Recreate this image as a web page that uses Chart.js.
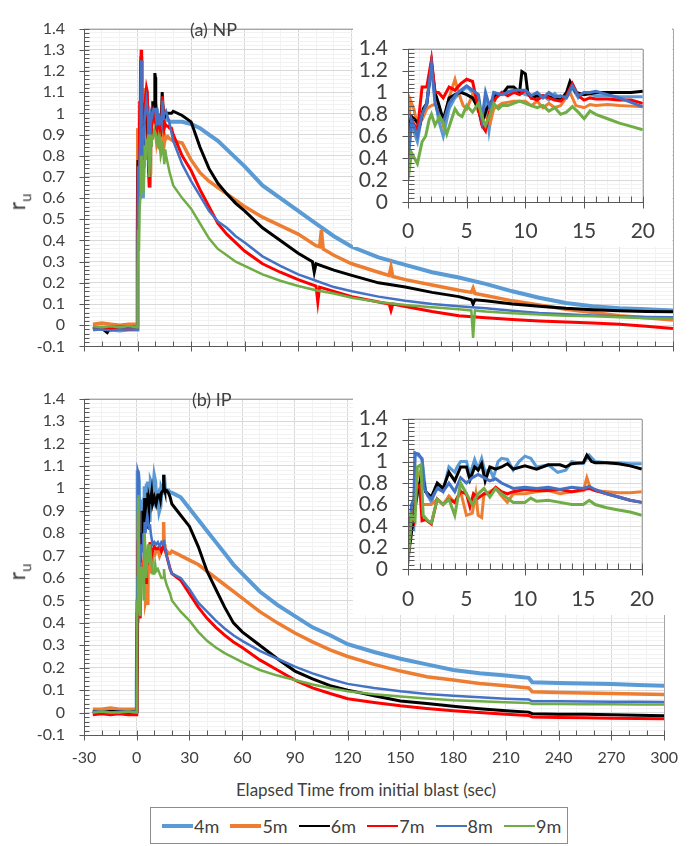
<!DOCTYPE html>
<html>
<head>
<meta charset="utf-8">
<script src="https://cdn.jsdelivr.net/npm/chart.js@4"></script>
<style>
  body { margin: 0; background: #fff; }
  #page { position: relative; width: 691px; height: 846px; font-family: Lato, "Open Sans", sans-serif; color: #404040; }
  .box { position: absolute; }
  .panel-title { position: absolute; font-size: 18px; line-height: 1; white-space: nowrap; }
  .ytitle { position: absolute; font-size: 23px; line-height: 1; white-space: nowrap; transform: translate(-50%, -50%) rotate(-90deg); }
  .ytitle sub { font-size: 15px; }
  #xtitle { position: absolute; left: 366px; top: 789px; transform: translate(-50%, -50%); font-size: 17px; white-space: nowrap; }
  #legend { position: absolute; left: 150px; top: 807px; width: 416px; height: 35px; border: 1px solid #8c8c8c; }
  .item { position: absolute; top: 0; height: 35px; display: flex; align-items: center; font-size: 18px; }
  .swatch { width: 31px; margin-right: 1px; }
</style>
</head>
<body>
<div id="page">
  <div class="box" style="left:0;top:0"><canvas id="topMain" width="691" height="375"></canvas></div>
  <div class="box" style="left:0;top:370px"><canvas id="botMain" width="691" height="400"></canvas></div>
  <div class="box" style="left:353px;top:16px"><canvas id="topInset" width="319" height="231"></canvas></div>
  <div class="box" style="left:353px;top:386px"><canvas id="botInset" width="319" height="229"></canvas></div>
  <div class="panel-title" style="left:190px;top:20px">(a) NP</div>
  <div class="panel-title" style="left:192px;top:390px">(b) IP</div>
  <div class="ytitle" style="left:19px;top:202px">r<sub>u</sub></div>
  <div class="ytitle" style="left:19px;top:572px">r<sub>u</sub></div>
  <div id="xtitle">Elapsed Time from initial blast (sec)</div>
  <div id="legend"></div>
</div>
<script>
// Series names and colours (gauge depth)
const NAMES = ['4m', '5m', '6m', '7m', '8m', '9m'];
const COLORS = ['#5B9BD5', '#ED7D31', '#000000', '#FF0000', '#4472C4', '#70AD47'];

// (a) NP : [time (sec), r_u]
const np4 = [[-25,-0.02],[-20,-0.015],[-15,-0.02],[-10,-0.025],[-5,-0.02],[-0.3,-0.02],
  [0,0.4],[0.3,0.7],[0.8,0.55],[1.2,0.8],[1.6,0.88],[2,1.25],[2.3,0.95],[2.6,0.75],[3,0.6],[3.5,0.85],[4,0.95],[4.5,1.0],[5,1.05],[5.5,1.0],[6,0.95],[6.3,0.75],[6.6,0.95],[6.9,0.65],[7.3,0.95],[8,1.0],[9,1.02],[10,0.98],[11,0.95],[11.5,0.97],[12,0.93],[12.5,0.99],[13,0.93],[13.5,0.97],[14,1.04],[14.5,0.95],[15,1.0],[16,0.97],[17,0.97],[18,0.96],[19,0.96],[20,0.96],
  [25,0.96],[30,0.95],[35,0.93],[40,0.9],[45,0.87],[50,0.83],[55,0.79],[60,0.75],[70,0.66],[80,0.6],[90,0.54],[100,0.48],[110,0.42],[120,0.37],[135,0.32],[150,0.285],[165,0.25],[180,0.225],[195,0.195],[210,0.16],[225,0.13],[240,0.105],[255,0.09],[270,0.08],[285,0.075],[300,0.07]];
const np5 = [[-25,0.005],[-20,0.01],[-15,0.005],[-10,0.0],[-5,0.005],[-0.3,0.005],
  [0,0.55],[0.2,0.93],[0.5,0.85],[0.8,0.7],[1.2,0.75],[1.6,0.85],[2,0.88],[2.5,0.9],[3,0.7],[3.5,0.95],[4,1.12],[4.3,1.0],[4.7,0.88],[5,0.85],[5.5,0.98],[6,0.82],[6.5,0.8],[7,0.72],[7.3,0.85],[8,0.9],[9,0.92],[10,0.92],[10.5,0.88],[11,0.92],[11.5,0.86],[12,0.9],[12.5,0.86],[13,0.88],[13.8,1.0],[14.3,0.88],[15,0.86],[15.5,0.89],[16,0.88],[17,0.89],[18,0.88],[19,0.875],[20,0.87],
  [25,0.86],[30,0.78],[35,0.72],[40,0.68],[45,0.65],[50,0.62],[55,0.59],[60,0.56],[70,0.51],[80,0.47],[90,0.43],[100,0.375],[102,0.37],[103,0.45],[104,0.36],[110,0.33],[120,0.29],[135,0.25],[141,0.235],[142,0.275],[143,0.23],[150,0.215],[165,0.19],[180,0.165],[187,0.155],[188,0.175],[189,0.15],[195,0.14],[210,0.115],[225,0.095],[240,0.075],[255,0.06],[270,0.045],[285,0.035],[300,0.025]];
const np6 = [[-25,-0.01],[-20,-0.015],[-17,-0.035],[-15,-0.01],[-10,-0.01],[-5,-0.01],[-0.3,-0.01],
  [0,0.6],[0.3,0.78],[0.6,0.75],[1,0.7],[1.3,0.85],[1.6,0.9],[2,1.27],[2.3,1.0],[2.6,0.9],[3,0.75],[3.5,0.95],[4,0.98],[4.5,1.0],[5,0.98],[5.5,0.95],[6,0.85],[6.3,0.72],[6.7,0.85],[7,0.9],[7.5,0.98],[8,0.98],[8.5,1.05],[9,1.05],[9.5,1.0],[9.7,1.19],[10,1.17],[10.2,1.0],[10.5,0.95],[11,0.97],[12,0.96],[13,0.93],[13.5,1.0],[13.8,1.1],[14.3,1.0],[15,0.98],[16,1.0],[17,1.0],[18,1.0],[19,1.0],[20,1.01],
  [25,0.99],[30,0.96],[35,0.84],[40,0.74],[45,0.67],[50,0.62],[55,0.575],[60,0.54],[70,0.46],[80,0.4],[90,0.34],[98,0.3],[99,0.25],[100,0.29],[110,0.26],[120,0.235],[135,0.2],[150,0.18],[165,0.155],[180,0.135],[187,0.12],[188,0.1],[189,0.12],[195,0.115],[210,0.1],[225,0.09],[240,0.08],[255,0.073],[270,0.068],[285,0.065],[300,0.063]];
const np7 = [[-25,-0.015],[-20,-0.01],[-15,-0.015],[-10,-0.015],[-5,-0.02],[-0.3,-0.015],
  [0,0.5],[0.3,0.75],[0.8,0.65],[1.2,1.05],[1.6,1.05],[2,1.3],[2.3,1.0],[2.6,1.0],[3,0.95],[3.5,1.05],[4,1.02],[4.5,1.08],[5,1.12],[5.5,1.1],[6,0.85],[6.3,0.7],[6.6,0.65],[7,0.85],[7.5,0.95],[8,1.0],[8.5,0.97],[9,1.0],[9.5,0.98],[10,1.02],[10.5,0.95],[11,0.93],[11.5,0.97],[12,0.95],[12.5,0.93],[13,0.92],[13.5,0.97],[14,1.08],[14.5,0.97],[15,0.93],[15.5,0.95],[16,0.94],[17,0.94],[18,0.93],[19,0.93],[20,0.9],
  [25,0.8],[30,0.73],[35,0.64],[40,0.56],[45,0.48],[50,0.43],[55,0.39],[60,0.35],[70,0.29],[80,0.25],[90,0.215],[100,0.185],[101,0.11],[102,0.18],[110,0.16],[120,0.135],[135,0.11],[141,0.1],[142,0.07],[143,0.1],[150,0.088],[165,0.065],[180,0.045],[195,0.035],[210,0.027],[225,0.02],[240,0.015],[255,0.01],[270,0.005],[285,-0.005],[300,-0.015]];
const np8 = [[-25,-0.02],[-20,-0.02],[-15,-0.025],[-10,-0.02],[-5,-0.02],[-0.3,-0.02],
  [0,0.35],[0.3,0.75],[0.8,0.6],[1.2,0.8],[1.6,0.9],[2,1.25],[2.3,0.9],[2.6,0.8],[3,0.72],[3.5,0.9],[4,0.97],[4.5,1.02],[5,1.06],[5.5,1.02],[6,0.98],[6.3,0.75],[6.6,1.0],[7,0.85],[7.3,1.0],[8,0.98],[9,1.02],[10,1.02],[10.5,0.97],[11,1.0],[11.5,0.95],[12,1.0],[12.5,0.96],[13,0.97],[13.5,0.95],[14,1.06],[14.5,0.97],[15,1.0],[15.5,1.0],[16,1.01],[17,0.98],[18,0.95],[19,0.91],[20,0.87],
  [25,0.76],[30,0.68],[35,0.61],[40,0.54],[45,0.49],[50,0.46],[55,0.42],[60,0.39],[70,0.325],[80,0.28],[90,0.24],[100,0.21],[110,0.18],[120,0.16],[135,0.135],[150,0.115],[165,0.1],[180,0.09],[195,0.08],[210,0.068],[225,0.058],[240,0.052],[255,0.046],[270,0.042],[285,0.039],[300,0.037]];
const np9 = [[-25,-0.005],[-20,-0.01],[-15,-0.005],[-10,-0.01],[-5,-0.005],[-0.3,-0.01],
  [0,0.2],[0.3,0.45],[0.8,0.35],[1.2,0.55],[1.5,0.6],[1.8,0.75],[2,0.8],[2.3,0.7],[2.7,0.78],[3,0.72],[3.3,0.62],[3.7,0.75],[4,0.85],[4.3,0.8],[4.6,0.78],[5,0.88],[5.5,0.82],[6,0.9],[6.3,0.78],[6.6,0.7],[7,0.8],[7.3,0.9],[7.7,0.85],[8,0.88],[8.5,0.88],[9,0.9],[9.5,0.92],[10,0.9],[10.5,0.88],[11,0.86],[11.5,0.88],[12,0.83],[12.5,0.86],[13,0.8],[13.5,0.82],[14,0.87],[14.5,0.82],[15,0.76],[15.5,0.83],[16,0.8],[17,0.76],[18,0.72],[19,0.69],[20,0.66],
  [25,0.6],[30,0.55],[35,0.48],[40,0.41],[45,0.36],[50,0.33],[55,0.3],[60,0.28],[70,0.24],[80,0.21],[90,0.185],[100,0.165],[110,0.15],[120,0.13],[135,0.11],[150,0.095],[165,0.085],[180,0.075],[187,0.07],[188,-0.06],[189,0.07],[195,0.065],[210,0.057],[225,0.05],[240,0.045],[255,0.042],[270,0.038],[285,0.033],[300,0.03]];

// (b) IP : [time (sec), r_u]
const ip4 = [[-25,0.005],[-20,0.0],[-15,0.005],[-10,0.01],[-5,0.005],[-0.3,0.005],
  [0,0.1],[0.3,0.45],[0.5,0.4],[0.6,1.08],[1.2,1.03],[1.5,0.73],[2,0.62],[2.5,0.78],[3,0.72],[3.5,0.95],[4,0.9],[4.2,0.95],[4.5,1.0],[5,1.0],[5.3,0.88],[5.7,1.02],[6,0.93],[6.3,1.03],[6.6,0.9],[7,0.93],[7.3,0.85],[7.7,1.0],[8,1.03],[8.5,1.02],[9,0.92],[9.5,1.0],[10,1.05],[10.5,1.03],[11,0.95],[12,0.97],[12.8,0.9],[13.5,0.92],[14,1.0],[15,0.98],[15.5,1.06],[16,1.0],[17,0.99],[18,0.99],[19,0.98],[20,0.98],
  [25,0.96],[30,0.91],[35,0.86],[40,0.81],[45,0.76],[50,0.71],[55,0.66],[60,0.62],[70,0.54],[80,0.48],[90,0.43],[100,0.38],[110,0.345],[120,0.305],[135,0.27],[150,0.24],[165,0.215],[180,0.19],[195,0.175],[210,0.165],[223,0.155],[225,0.135],[240,0.132],[255,0.13],[270,0.127],[285,0.123],[300,0.12]];
const ip5 = [[-25,0.015],[-20,0.015],[-15,0.02],[-10,0.015],[-5,0.015],[-0.3,0.015],
  [0,0.1],[0.4,0.5],[0.7,0.85],[1,0.9],[1.2,0.6],[2,0.6],[2.5,0.65],[3,0.6],[3.5,0.68],[4,0.62],[4.5,0.72],[5,0.5],[5.5,0.52],[5.8,0.7],[6,0.5],[6.3,0.48],[6.5,0.7],[7,0.72],[7.5,0.75],[8,0.68],[8.5,0.62],[9,0.7],[10,0.7],[11,0.72],[12,0.73],[13,0.7],[14,0.72],[15,0.73],[15.3,0.85],[15.6,0.75],[16,0.73],[17,0.72],[18,0.71],[19,0.71],[20,0.72],
  [25,0.7],[30,0.68],[35,0.66],[40,0.63],[45,0.6],[50,0.57],[55,0.54],[60,0.51],[70,0.45],[80,0.4],[90,0.355],[100,0.315],[110,0.28],[120,0.25],[135,0.215],[150,0.185],[165,0.16],[180,0.145],[195,0.13],[210,0.12],[223,0.11],[225,0.093],[240,0.09],[255,0.087],[270,0.085],[285,0.083],[300,0.081]];
const ip6 = [[-25,0.005],[-20,0.0],[-15,0.005],[-10,0.005],[-5,0.0],[-0.3,0.005],
  [0,0.1],[0.5,0.5],[0.8,0.7],[1.2,0.9],[1.5,0.72],[2,0.67],[2.5,0.8],[3,0.75],[3.5,0.9],[4,0.82],[4.5,0.95],[5,0.95],[5.3,0.83],[5.7,0.95],[6,0.92],[6.3,0.98],[6.6,0.82],[7,0.95],[7.5,0.93],[8,0.95],[8.5,0.98],[9,0.93],[10,0.96],[11,0.93],[12,0.97],[13,0.97],[13.5,0.95],[14,0.98],[15,0.99],[15.3,1.06],[15.7,1.0],[16,0.99],[17,0.99],[18,0.98],[19,0.96],[20,0.93],
  [25,0.88],[30,0.83],[35,0.74],[40,0.63],[45,0.55],[50,0.47],[55,0.4],[60,0.36],[70,0.3],[80,0.24],[90,0.185],[100,0.15],[110,0.12],[120,0.1],[135,0.075],[150,0.052],[165,0.04],[180,0.028],[195,0.017],[210,0.008],[223,0.002],[225,-0.005],[240,-0.007],[255,-0.008],[270,-0.01],[285,-0.012],[300,-0.014]];
const ip7 = [[-25,-0.01],[-20,-0.005],[-15,-0.01],[-10,-0.005],[-5,-0.01],[-0.3,-0.01],
  [0,0.1],[0.3,0.5],[0.5,0.45],[0.6,0.75],[1,0.78],[1.2,0.45],[1.5,0.46],[2,0.42],[2.5,0.65],[3,0.6],[3.5,0.65],[4,0.62],[4.5,0.72],[5,0.7],[5.3,0.58],[5.6,0.7],[6,0.66],[6.5,0.7],[7,0.7],[7.5,0.76],[8,0.72],[8.5,0.7],[9,0.72],[10,0.74],[11,0.73],[12,0.73],[13,0.74],[14,0.72],[15,0.74],[15.5,0.75],[16,0.73],[17,0.7],[18,0.67],[19,0.64],[20,0.62],
  [25,0.59],[30,0.53],[35,0.47],[40,0.42],[45,0.38],[50,0.345],[55,0.315],[60,0.29],[70,0.235],[80,0.19],[90,0.145],[100,0.11],[110,0.085],[120,0.062],[135,0.045],[150,0.03],[165,0.018],[180,0.008],[195,0.0],[210,-0.008],[223,-0.013],[225,-0.02],[240,-0.022],[255,-0.023],[270,-0.025],[285,-0.026],[300,-0.027]];
const ip8 = [[-25,0.005],[-20,0.005],[-15,0.0],[-10,0.005],[-5,0.005],[-0.3,0.005],
  [0,0.1],[0.3,0.6],[0.5,0.65],[0.6,1.08],[0.9,1.07],[1.2,1.02],[1.4,0.75],[1.7,0.68],[2,0.65],[2.5,0.75],[3,0.72],[3.5,0.8],[4,0.72],[4.5,0.85],[5,0.8],[5.5,0.85],[6,0.88],[6.5,0.85],[7,0.82],[7.5,0.84],[8,0.8],[9,0.75],[10,0.76],[11,0.75],[12,0.76],[13,0.74],[14,0.76],[15,0.75],[15.5,0.77],[16,0.74],[17,0.7],[18,0.67],[19,0.64],[20,0.62],
  [25,0.6],[30,0.55],[35,0.49],[40,0.45],[45,0.41],[50,0.375],[55,0.345],[60,0.32],[70,0.275],[80,0.24],[90,0.205],[100,0.175],[110,0.15],[120,0.128],[135,0.11],[150,0.095],[165,0.083],[180,0.075],[195,0.068],[210,0.062],[223,0.058],[225,0.05],[240,0.05],[255,0.049],[270,0.048],[285,0.048],[300,0.047]];
const ip9 = [[-25,0.0],[-20,0.005],[-15,0.0],[-10,0.0],[-5,0.005],[-0.3,0.0],
  [0,0.05],[0.3,0.5],[0.6,0.45],[0.8,0.95],[1.1,0.97],[1.3,0.5],[1.7,0.45],[2,0.43],[2.5,0.65],[3,0.6],[3.5,0.65],[4,0.5],[4.5,0.8],[5,0.7],[5.5,0.6],[6,0.7],[6.5,0.75],[7,0.67],[7.5,0.75],[8,0.7],[8.5,0.66],[9,0.62],[10,0.62],[10.5,0.66],[11,0.63],[12,0.64],[13,0.62],[14,0.6],[15,0.6],[15.5,0.64],[16,0.6],[17,0.57],[18,0.55],[19,0.53],[20,0.5],
  [25,0.45],[30,0.41],[35,0.36],[40,0.32],[45,0.29],[50,0.265],[55,0.245],[60,0.225],[70,0.19],[80,0.165],[90,0.145],[100,0.125],[110,0.11],[120,0.095],[135,0.082],[150,0.072],[165,0.063],[180,0.055],[195,0.05],[210,0.046],[223,0.043],[225,0.038],[240,0.038],[255,0.037],[270,0.037],[285,0.036],[300,0.036]];

const NP = [np4, np5, np6, np7, np8, np9];
const IP = [ip4, ip5, ip6, ip7, ip8, ip9];

const FONT = 'Lato, "Open Sans", sans-serif';
const TEXT = '#404040';
const MAIN_WIDTHS = [4, 3.5, 3, 3, 2.5, 2.5];
const INSET_WIDTHS = [3, 3, 3, 3, 3, 3];
const LEGEND_WIDTHS = [4, 4, 2, 2, 2, 2];

function isMultiple(v, step) {
  const q = v / step;
  return Math.abs(q - Math.round(q)) < 1e-6;
}

function fmt(v) {
  return String(Math.round(v * 100) / 100);
}

// white background, plot frame and Excel-like tick marks
const framePlugin = {
  id: 'frame',
  beforeDraw(chart) {
    const c = chart.ctx;
    c.save();
    c.fillStyle = '#fff';
    c.fillRect(0, 0, chart.width, chart.height);
    c.restore();
  },
  afterDraw(chart, args, opts) {
    const c = chart.ctx, a = chart.chartArea;
    const xs = chart.scales.x, ys = chart.scales.y;
    const al = (p) => Math.round(p) + 0.5;
    const L = al(a.left), R = al(a.right), T = al(a.top), B = al(a.bottom);
    c.save();
    c.lineWidth = 1;
    c.strokeStyle = '#a6a6a6';
    c.beginPath();
    c.moveTo(L, T); c.lineTo(R, T); c.lineTo(R, B);
    c.stroke();
    c.strokeStyle = '#595959';
    c.beginPath();
    c.moveTo(L, T); c.lineTo(L, B); c.lineTo(R, B);
    ys.ticks.forEach((t) => {
      const y = al(ys.getPixelForValue(t.value));
      const major = isMultiple(t.value, opts.yMajor);
      c.moveTo(major ? L - opts.len : L, y);
      c.lineTo(L + opts.len, y);
    });
    xs.ticks.forEach((t) => {
      const x = al(xs.getPixelForValue(t.value));
      const major = isMultiple(t.value, opts.xMajor);
      c.moveTo(x, major ? B + opts.len : B);
      c.lineTo(x, B - opts.len);
    });
    c.stroke();
    c.restore();
  }
};

function axis(cfg, horizontal, fontSize) {
  return {
    type: 'linear',
    min: cfg.min,
    max: cfg.max,
    border: { display: false },
    grid: {
      drawTicks: false,
      color: (ctx) => (ctx.tick && isMultiple(ctx.tick.value, cfg.major) ? '#D9D9D9' : '#F2F2F2')
    },
    ticks: {
      stepSize: cfg.step,
      autoSkip: false,
      maxRotation: 0,
      display: cfg.labels,
      padding: cfg.pad,
      color: TEXT,
      font: { family: FONT, size: fontSize },
      callback: (v) => (isMultiple(v, cfg.major) ? fmt(v) : '')
    },
    afterFit: (s) => {
      if (horizontal) s.height = cfg.fit;
      else s.width = cfg.fit;
    }
  };
}

function buildChart(id, series, widths, cfg) {
  const inRange = (p) => p[0] >= cfg.x.min && p[0] <= cfg.x.max;
  return new Chart(document.getElementById(id), {
    type: 'scatter',
    data: {
      datasets: series.map((d, i) => ({
        label: NAMES[i],
        data: d.filter(inRange),
        showLine: true,
        borderColor: COLORS[i],
        backgroundColor: COLORS[i],
        borderWidth: widths[i],
        pointRadius: 0,
        tension: 0,
        order: 5 - i
      }))
    },
    options: {
      responsive: false,
      animation: false,
      events: [],
      layout: { padding: cfg.padding },
      plugins: {
        legend: { display: false },
        tooltip: { enabled: false },
        frame: { xMajor: cfg.x.major, yMajor: cfg.y.major, len: cfg.tickLen }
      },
      scales: {
        x: axis(cfg.x, true, cfg.fontSize),
        y: axis(cfg.y, false, cfg.fontSize)
      }
    },
    plugins: [framePlugin]
  });
}

// main panels
const mainY = { min: -0.1, max: 1.4, step: 0.02, major: 0.1, labels: true, pad: 19, fit: 84 };
buildChart('topMain', NP, MAIN_WIDTHS, {
  padding: { top: 15, right: 18, left: 0, bottom: 0 },
  fontSize: 16, tickLen: 5,
  x: { min: -30, max: 300, step: 10, major: 30, labels: false, pad: 13, fit: 10 },
  y: mainY
});
buildChart('botMain', IP, MAIN_WIDTHS, {
  padding: { top: 15, right: 18, left: 0, bottom: 0 },
  fontSize: 16, tickLen: 5,
  x: { min: -30, max: 300, step: 10, major: 30, labels: true, pad: 13, fit: 35 },
  y: mainY
});

// insets (first 20 seconds)
const insetY = { min: 0, max: 1.4, step: 0.04, major: 0.2, labels: true, pad: 20, fit: 55 };
buildChart('topInset', NP, INSET_WIDTHS, {
  padding: { top: 14, right: 22, left: 0, bottom: 0 },
  fontSize: 21, tickLen: 6,
  x: { min: 0, max: 20, step: 1, major: 5, labels: true, pad: 17, fit: 45 },
  y: insetY
});
buildChart('botInset', IP, INSET_WIDTHS, {
  padding: { top: 14, right: 22, left: 0, bottom: 0 },
  fontSize: 21, tickLen: 6,
  x: { min: 0, max: 20, step: 1, major: 5, labels: true, pad: 18, fit: 46 },
  y: insetY
});

// legend
const legend = document.getElementById('legend');
NAMES.forEach((name, i) => {
  const item = document.createElement('div');
  item.className = 'item';
  item.style.left = (11 + i * 68.4) + 'px';
  const sw = document.createElement('span');
  sw.className = 'swatch';
  sw.style.height = LEGEND_WIDTHS[i] + 'px';
  sw.style.background = COLORS[i];
  item.appendChild(sw);
  item.appendChild(document.createTextNode(name));
  legend.appendChild(item);
});
</script>
</body>
</html>
